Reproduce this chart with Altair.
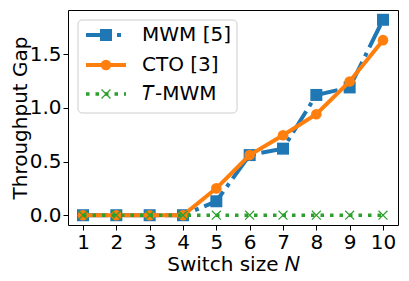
import altair as alt
import pandas as pd

N = list(range(1, 11))
mwm = [0.0, 0.0, 0.0, 0.0, 0.13, 0.56, 0.62, 1.12, 1.19, 1.82]
cto = [0.0, 0.0, 0.0, 0.0, 0.25, 0.56, 0.745, 0.94, 1.245, 1.63]
tmwm = [0.0] * 10
series_labels = ["MWM [5]", "CTO [3]", "𝑇-MWM"]
y_ticks = [0.0, 0.5, 1.0, 1.5]

BLUE = "#1f77b4"
ORANGE = "#ff7f0e"
GREEN = "#2ca02c"
XSHAPE = "M-1,-1L1,1M-1,1L1,-1"
FONT = "DejaVu Sans"
FS = 20

xs = alt.Scale(domain=[0.55, 10.45], nice=False, zero=False)
ys = alt.Scale(domain=[-0.091, 1.911], nice=False, zero=False)
xenc = alt.X("N:Q", scale=xs, axis=alt.Axis(values=N, format="d", title="Switch size 𝑁"))
yenc = alt.Y("gap:Q", scale=ys, axis=alt.Axis(values=y_ticks, format=".1f", title="Throughput Gap"))

d_mwm = pd.DataFrame({"N": N, "gap": mwm})
d_cto = pd.DataFrame({"N": N, "gap": cto})
d_t = pd.DataFrame({"N": N, "gap": tmwm})

mwm_line = alt.Chart(d_mwm).mark_line(color=BLUE, strokeWidth=4, strokeDash=[25, 6, 4, 6]).encode(x=xenc, y=yenc)
mwm_pts = alt.Chart(d_mwm).mark_point(shape="square", size=144, filled=True, color=BLUE, opacity=1).encode(x=xenc, y=yenc)
cto_line = alt.Chart(d_cto).mark_line(color=ORANGE, strokeWidth=4).encode(x=xenc, y=yenc)
cto_pts = alt.Chart(d_cto).mark_point(shape="circle", size=113, filled=True, color=ORANGE, opacity=1).encode(x=xenc, y=yenc)
t_line = alt.Chart(d_t).mark_line(color=GREEN, strokeWidth=3.5, strokeDash=[3.5, 6]).encode(x=xenc, y=yenc)
t_pts = alt.Chart(d_t).mark_point(shape=XSHAPE, size=80, filled=False, color=GREEN, strokeWidth=1.2, opacity=1).encode(x=xenc, y=yenc)

one = pd.DataFrame({"a": [0]})
box = alt.Chart(one).mark_rect(fill="white", fillOpacity=0.8, stroke="#cccccc", strokeWidth=1, cornerRadius=4).encode(
    x=alt.value(10), x2=alt.value(169), y=alt.value(10), y2=alt.value(103))

ly = [25, 55, 84]
leg = []
leg.append(alt.Chart(one).mark_rule(color=BLUE, strokeWidth=4, strokeDash=[25, 6, 4, 6]).encode(
    x=alt.value(18), x2=alt.value(56), y=alt.value(ly[0])))
leg.append(alt.Chart(one).mark_point(shape="square", size=144, filled=True, color=BLUE, opacity=1).encode(
    x=alt.value(38), y=alt.value(ly[0])))
leg.append(alt.Chart(one).mark_rule(color=ORANGE, strokeWidth=4).encode(
    x=alt.value(18), x2=alt.value(58), y=alt.value(ly[1])))
leg.append(alt.Chart(one).mark_point(shape="circle", size=113, filled=True, color=ORANGE, opacity=1).encode(
    x=alt.value(38), y=alt.value(ly[1])))
leg.append(alt.Chart(one).mark_rule(color=GREEN, strokeWidth=3.5, strokeDash=[3.5, 6]).encode(
    x=alt.value(18), x2=alt.value(58), y=alt.value(ly[2])))
leg.append(alt.Chart(one).mark_point(shape=XSHAPE, size=80, filled=False, color=GREEN, strokeWidth=1.2, opacity=1).encode(
    x=alt.value(38), y=alt.value(ly[2])))
for lab, yy in zip(series_labels, ly):
    leg.append(alt.Chart(one).mark_text(text=lab, align="left", baseline="middle", font=FONT, fontSize=FS, color="black").encode(
        x=alt.value(74), y=alt.value(yy)))

chart = alt.layer(mwm_line, mwm_pts, cto_line, cto_pts, t_line, t_pts, box, *leg).properties(
    width=330, height=215,
    autosize=alt.AutoSizeParams(type="none"),
    padding={"left": 60, "top": 2, "right": 3, "bottom": 56},
).configure_view(stroke="black", strokeWidth=1).configure_axis(
    grid=False, domain=False, labelFont=FONT, titleFont=FONT, labelFontSize=FS, titleFontSize=FS,
    labelColor="black", titleColor="black", tickColor="black", tickSize=5, labelPadding=2,
    titleFontWeight="normal",
).configure_axisY(titlePadding=-1).configure_axisX(titlePadding=2)

chart.save("out.html", embed_options={"renderer": "svg", "actions": False})
